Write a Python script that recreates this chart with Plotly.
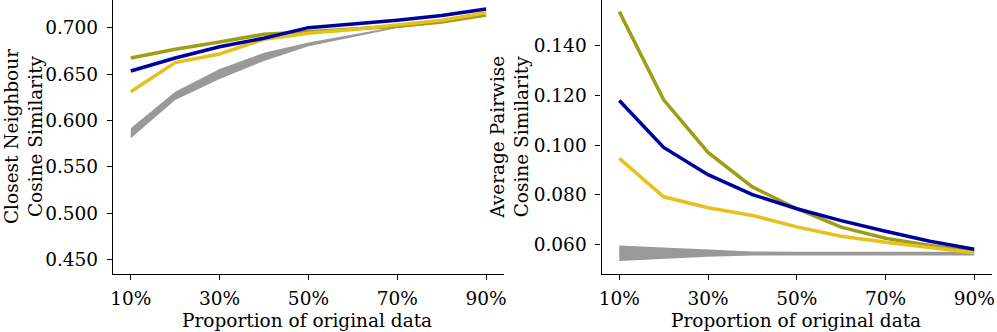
import plotly.graph_objects as go

# ---- data ----
proportions = [10, 20, 30, 40, 50, 60, 70, 80, 90]
tick_vals = [10, 30, 50, 70, 90]
tick_text = ["10%", "30%", "50%", "70%", "90%"]

# Closest neighbour cosine similarity
cn_olive = [0.6673, 0.6767, 0.6846, 0.6929, 0.6957, 0.6990, 0.7015, 0.7060, 0.7137]
cn_blue = [0.6533, 0.6673, 0.6795, 0.6886, 0.7000, 0.7040, 0.7080, 0.7130, 0.7200]
cn_yellow = [0.6310, 0.6623, 0.6717, 0.6875, 0.6940, 0.6980, 0.7030, 0.7080, 0.7160]
cn_gray_low = [0.5808, 0.6220, 0.6447, 0.6641, 0.6800, 0.6895, 0.6995, 0.7048, 0.7128]
cn_gray_high = [0.5916, 0.6310, 0.6555, 0.6730, 0.6840, 0.6922, 0.7012, 0.7062, 0.7142]

# Average pairwise cosine similarity
ap_olive = [0.1538, 0.1183, 0.0971, 0.0832, 0.0744, 0.0670, 0.0625, 0.0596, 0.0571]
ap_blue = [0.1180, 0.0991, 0.0881, 0.0801, 0.0744, 0.0696, 0.0653, 0.0613, 0.0581]
ap_yellow = [0.0947, 0.0792, 0.0748, 0.0717, 0.0671, 0.0633, 0.0609, 0.0587, 0.0567]
ap_gray_low = [0.0533, 0.0543, 0.0551, 0.0556, 0.0556, 0.0556, 0.0556, 0.0556, 0.0556]
ap_gray_high = [0.0596, 0.0587, 0.0579, 0.0572, 0.0571, 0.0571, 0.0571, 0.0571, 0.0571]

left_yticks = [0.45, 0.50, 0.55, 0.60, 0.65, 0.70]
right_yticks = [0.06, 0.08, 0.10, 0.12, 0.14]

OLIVE = "#9e9e16"
BLUE = "#00009e"
YELLOW = "#e6c11c"
GRAY = "#999999"
FONT = "DejaVu Serif"
FS = 18.5

fig = go.Figure()


def add_panel(xa, ya, low, high, olive, yellow, blue):
    fig.add_trace(go.Scatter(x=proportions, y=low, mode="lines", line=dict(width=0, color=GRAY),
                             xaxis=xa, yaxis=ya, showlegend=False, hoverinfo="skip"))
    fig.add_trace(go.Scatter(x=proportions, y=high, mode="lines", line=dict(width=0, color=GRAY),
                             fill="tonexty", fillcolor=GRAY,
                             xaxis=xa, yaxis=ya, showlegend=False, hoverinfo="skip"))
    for vals, col in [(olive, OLIVE), (yellow, YELLOW), (blue, BLUE)]:
        fig.add_trace(go.Scatter(x=proportions, y=vals, mode="lines", line=dict(width=3.5, color=col),
                                 xaxis=xa, yaxis=ya, showlegend=False))


add_panel("x", "y", cn_gray_low, cn_gray_high, cn_olive, cn_yellow, cn_blue)
add_panel("x2", "y2", ap_gray_low, ap_gray_high, ap_olive, ap_yellow, ap_blue)

W, H = 997, 332
ML, MR, MT, MB = 113, 4.7, 0, 58
PW = W - ML - MR
PH = H - MT - MB

axis_common = dict(showgrid=False, zeroline=False, showline=True, linecolor="black", linewidth=1.3,
                   ticks="outside", ticklen=5, tickwidth=1, tickcolor="black",
                   tickfont=dict(family=FONT, size=FS, color="black"), mirror=False)

fig.update_layout(
    width=W, height=H,
    margin=dict(l=ML, r=MR, t=MT, b=MB),
    plot_bgcolor="white", paper_bgcolor="white",
    xaxis=dict(domain=[0, (504 - ML) / PW], range=[6, 94], tickvals=tick_vals, ticktext=tick_text,
               anchor="y", ticklabelstandoff=3, **axis_common),
    yaxis=dict(domain=[0, 1], range=[0.4346, 0.7298], tickvals=left_yticks, tickformat=".3f",
               anchor="x", ticklabelstandoff=5, **axis_common),
    xaxis2=dict(domain=[(601.7 - ML) / PW, 1], range=[6, 94], tickvals=tick_vals, ticktext=tick_text,
                anchor="y2", ticklabelstandoff=3, **axis_common),
    yaxis2=dict(domain=[0, 1], range=[0.0481, 0.1585], tickvals=right_yticks, tickformat=".3f",
                anchor="x2", ticklabelstandoff=5, **axis_common),
)


def px_x(p):
    return (p - ML) / PW


def px_y(p):
    return (H - MB - p) / PH


ann_font = dict(family=FONT, size=FS, color="black")
fig.add_annotation(text="Closest Neighbour<br>Cosine Similarity", textangle=-90,
                   x=px_x(23), y=px_y(137), xref="paper", yref="paper", showarrow=False,
                   font=ann_font, xanchor="center", yanchor="middle")
fig.add_annotation(text="Average Pairwise<br>Cosine Similarity", textangle=-90,
                   x=px_x(509), y=px_y(137), xref="paper", yref="paper", showarrow=False,
                   font=ann_font, xanchor="center", yanchor="middle")
fig.add_annotation(text="Proportion of original data",
                   x=px_x(307.5), y=px_y(320), xref="paper", yref="paper", showarrow=False,
                   font=ann_font, xanchor="center", yanchor="middle")
fig.add_annotation(text="Proportion of original data",
                   x=px_x(796.3), y=px_y(320), xref="paper", yref="paper", showarrow=False,
                   font=ann_font, xanchor="center", yanchor="middle")

fig.write_html("out.html", config={"displayModeBar": False},
               post_script="document.body.style.margin='0';document.body.style.padding='0';")
